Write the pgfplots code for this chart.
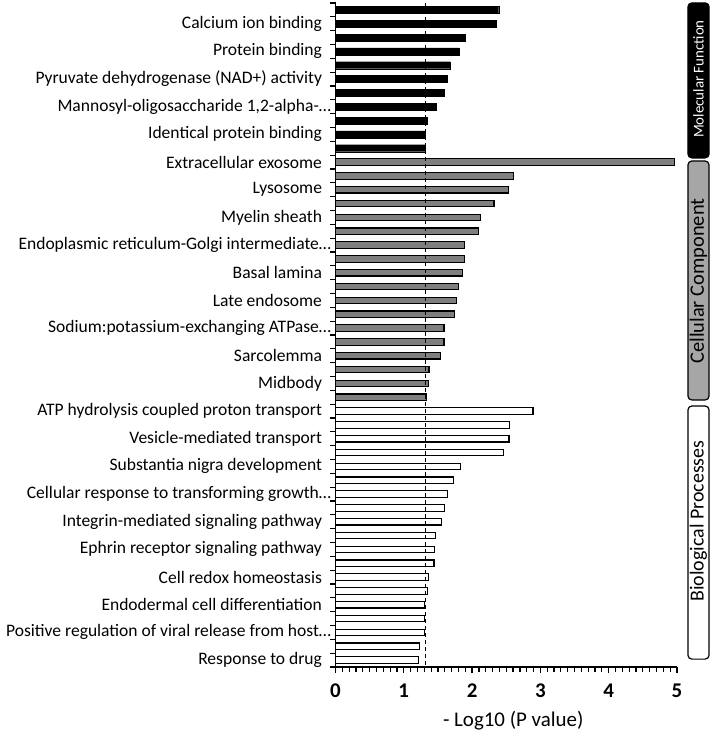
\documentclass[border=0pt]{standalone}
\usepackage{fontspec}
\setmainfont{Carlito}
\usepackage{pgfplots}
\pgfplotsset{compat=1.18}

\definecolor{barGray}{HTML}{7F7F7F}
\definecolor{boxGray}{HTML}{A6A6A6}
\newcommand{\trunc}{\makebox[3bp][l]{…}}

\begin{document}
\begin{tikzpicture}
\begin{axis}[
  at={(335.5bp,63bp)}, anchor=south west,
  width=341.5bp, height=664bp, scale only axis,
  xmin=0, xmax=5, ymin=-48.5, ymax=-0.5,
  axis x line*=bottom, axis y line*=left,
  axis line style={line width=1.3bp},
  xbar, bar shift=0pt,
  clip=false,
  xtick={0,1,2,3,4,5}, minor x tick num=9,
  tick align=outside,
  major tick length=6bp, minor tick length=5bp,
  tick style={black, line width=1.2bp},
  major y tick style={draw=none},
  ytick={-2,-4,-6,-8,-10,-12,-14,-16,-18,-20,-22,-24,-26,-28,-30,-32,-34,-36,-38,-40,-42,-44,-46,-48},
  minor ytick={-48.5,-47.5,...,-0.5},
  yticklabels={
    Calcium ion binding,
    Protein binding,
    Pyruvate dehydrogenase (NAD+) activity,
    {Mannosyl-oligosaccharide 1,2-alpha-\trunc},
    Identical protein binding,
    Extracellular exosome,
    Lysosome,
    Myelin sheath,
    Endoplasmic reticulum-Golgi intermediate\trunc,
    Basal lamina,
    Late endosome,
    Sodium:potassium-exchanging ATPase\trunc,
    Sarcolemma,
    Midbody,
    ATP hydrolysis coupled proton transport,
    Vesicle-mediated transport,
    Substantia nigra development,
    Cellular response to transforming growth\trunc,
    Integrin-mediated signaling pathway,
    Ephrin receptor signaling pathway,
    Cell redox homeostasis,
    Endodermal cell differentiation,
    Positive regulation of viral release from host\trunc,
    Response to drug},
  yticklabel style={font=\fontsize{17.6}{20}\selectfont, xshift=-4bp},
  /pgf/number format/assume math mode=true,
  xticklabel style={font=\bfseries\fontsize{21}{24}\selectfont, yshift=-7bp},
  xlabel={- Log10 (P value)},
  xlabel style={font=\fontsize{21}{24}\selectfont, at={(axis description cs:0.5,0)},
    anchor=base, yshift=-59bp, xshift=7bp},
]
% Molecular Function
\addplot[fill=black, draw=black, bar width=7bp] coordinates {
  (2.39,-1) (2.36,-2) (1.90,-3) (1.81,-4) (1.68,-5) (1.63,-6)
  (1.59,-7) (1.47,-8) (1.34,-9) (1.31,-10) (1.31,-11)};
% Cellular Component
\addplot[fill=barGray, draw=black, line width=1.3bp, bar width=6.5bp] coordinates {
  (4.96,-12) (2.61,-13) (2.53,-14) (2.32,-15) (2.12,-16) (2.09,-17)
  (1.89,-18) (1.89,-19) (1.86,-20) (1.80,-21) (1.77,-22) (1.74,-23)
  (1.59,-24) (1.59,-25) (1.54,-26) (1.37,-27) (1.36,-28) (1.33,-29)};
% Biological Processes
\addplot[fill=white, draw=black, line width=1.3bp, bar width=6.5bp] coordinates {
  (2.89,-30) (2.55,-31) (2.54,-32) (2.46,-33) (1.83,-34) (1.73,-35)
  (1.64,-36) (1.60,-37) (1.55,-38) (1.46,-39) (1.45,-40) (1.44,-41)
  (1.36,-42) (1.35,-43) (1.30,-44) (1.30,-45) (1.30,-46) (1.23,-47) (1.22,-48)};
% threshold
\addplot[sharp plot, forget plot, black, line width=1bp, dash pattern=on 4bp off 3bp]
  coordinates {(1.32,-0.5) (1.32,-48.5)};

% category boxes
\draw[rounded corners=4bp, fill=black, line width=1.2bp]
  (axis cs:5.16,-0.49) rectangle (axis cs:5.47,-11.7);
\node[rotate=90, text=white, font=\fontsize{15}{17}\selectfont]
  at (axis cs:5.315,-6.0) {Molecular Function};
\draw[rounded corners=4bp, fill=boxGray, line width=1.2bp]
  (axis cs:5.16,-11.92) rectangle (axis cs:5.47,-29.2);
\node[rotate=90, font=\fontsize{20.5}{22}\selectfont]
  at (axis cs:5.315,-20.6) {Cellular Component};
\draw[rounded corners=4bp, fill=white, line width=1.2bp]
  (axis cs:5.16,-29.63) rectangle (axis cs:5.47,-47.93);
\node[rotate=90, font=\fontsize{20}{22}\selectfont]
  at (axis cs:5.315,-37.95) {Biological Processes};
\end{axis}
\pgfresetboundingbox
\path[use as bounding box] (0,0) rectangle (712bp,730bp);
\end{tikzpicture}
\end{document}
